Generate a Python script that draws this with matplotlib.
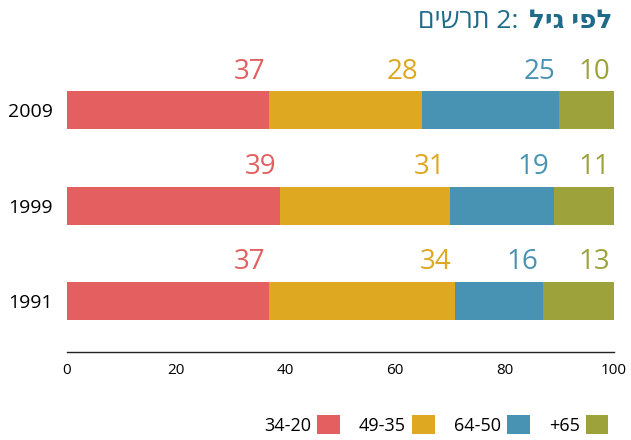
import matplotlib
matplotlib.use('Agg')
from matplotlib import pyplot as plt
from matplotlib.patches import Patch

years = ['1991', '1999', '2009']
groups = ['34-20', '49-35', '64-50', '+65']
values = [
    [37, 34, 16, 13],   # 1991
    [39, 31, 19, 11],   # 1999
    [37, 28, 25, 10],   # 2009
]
colors = ['#E46060', '#DEA820', '#4893B3', '#9DA33A']
xticks = [0, 20, 40, 60, 80, 100]

# matplotlib has no bidi support, so Hebrew is given in visual order
title_plain = 'תרשים'[::-1] + ' 2:'
title_bold = 'לפי גיל'[::-1]

plt.rcParams['font.family'] = ['Open Sans', 'DejaVu Sans']

fig = plt.figure(figsize=(6.31, 4.4), dpi=100)
ax = fig.add_axes([0.106, 0.2, 0.867, 0.686])

for i, year in enumerate(years):
    left = 0
    for j, v in enumerate(values[i]):
        ax.barh(i, v, left=left, height=0.4, color=colors[j])
        left += v
        ax.annotate(str(v), xy=(left, i + 0.2), xytext=(-3, 9),
                    textcoords='offset points', ha='right', va='baseline',
                    fontsize=20, color=colors[j])

ax.set_xlim(0, 100)
ax.set_ylim(-0.534, 2.63)
ax.set_xticks(xticks)
ax.set_yticks(range(len(years)))
ax.set_yticklabels(years, fontsize=14, fontweight='medium')
ax.tick_params(axis='x', length=0, pad=8, labelsize=11)
ax.tick_params(axis='y', length=0, pad=10)
for s in ['top', 'right', 'left']:
    ax.spines[s].set_visible(False)
ax.spines['bottom'].set_linewidth(1.0)
ax.spines['bottom'].set_color('#222222')

fig.text(0.822, 0.936, title_plain, ha='right', va='baseline', fontsize=19,
         color='#1F6B8A')
fig.text(0.971, 0.936, title_bold, ha='right', va='baseline', fontsize=19,
         color='#1F6B8A', fontweight='bold')

handles = [Patch(facecolor=c, edgecolor='none') for c in colors]
fig.legend(handles, groups, ncol=4, loc='lower right', bbox_to_anchor=(0.99, -0.025),
           frameon=False, markerfirst=False, fontsize=13, handlelength=1.25,
           handleheight=1.25, handletextpad=0.35, columnspacing=1.05)

fig.savefig('out.png', dpi=100)
